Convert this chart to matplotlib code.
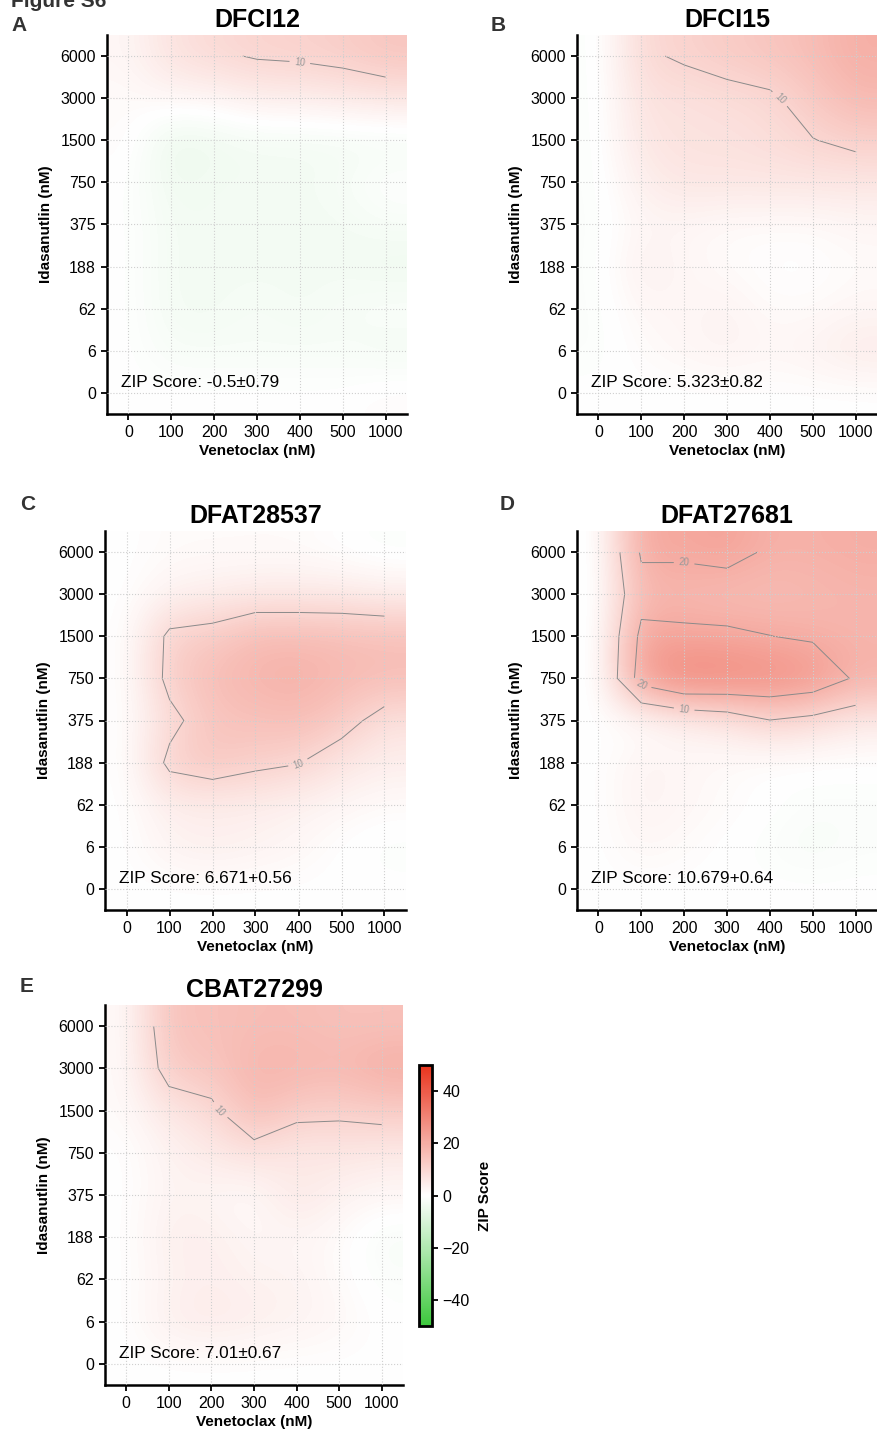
import numpy as np
import matplotlib
matplotlib.use("Agg")
import matplotlib.pyplot as plt
from matplotlib.colors import LinearSegmentedColormap

plt.rcParams["font.family"] = ["Liberation Sans", "DejaVu Sans"]

venetoclax = ["0", "100", "200", "300", "400", "500", "1000"]
idasanutlin = ["0", "6", "62", "188", "375", "750", "1500", "3000", "6000"]

# rows = idasanutlin (0 -> 6000), cols = venetoclax (0 -> 1000)
dfci12 = [
    [0, 0, 0, 0, 0, 0, 1],
    [0, -2, -2, -2, -2, -2, -3],
    [0, -3, -3, -2, -3, -2, -1],
    [0, -3, -3, -3, -3, -3, -4],
    [0, -3, -3, -3, -3, -3, -2],
    [0, -4, -3, -3, -3, -2, 0],
    [1, -5, -4, -3, -3, -3, -3],
    [1, 2, 2, 4, 4, 5, 6],
    [2, 7, 9, 10.5, 11, 12, 14],
]
dfci15 = [
    [0, 0, 0, 0, 0, 0, 0],
    [-1, 1, 2, 3, 2, 3, 5],
    [-1, 2, 2, 3, 1, 1, 2],
    [-1, 4, 2, 1, 0, 0, 1],
    [-1, 2, 2, 1, 1, 1, 2],
    [-1, 4, 6, 6, 6, 6, 6],
    [-1, 6, 7, 7, 8, 9.8, 11.5],
    [-1, 7, 7, 8, 9, 13, 17],
    [-1, 9, 10.8, 12.5, 14, 16, 19.5],
]
dfat28537 = [
    [0, 0, 0, 0, 0, 0, 0],
    [0, 3, 4, 3, 2, 0, -1],
    [0, 4, 4, 4, 3, 2, 1],
    [0, 11.6, 14, 11.5, 10.3, 6, 4],
    [0, 8, 14, 15, 16, 13, 7],
    [0, 12, 16, 18, 19, 17, 16],
    [0, 11.5, 12.7, 16.5, 16.5, 16, 15.5],
    [0, 3, 4, 5, 5, 5, 4],
    [0, 1, 1, 1, 1, 0, -1],
]
dfat27681 = [
    [0, 0, 0, 0, 0, 0, 0],
    [0, 2, 1, 0, -1, -2, -1],
    [0, 3, 2, 1, 0, -1, -1],
    [0, 3, 2, 1, 0, 0, 0],
    [0, 0, 3, 5.2, 9.8, 7.8, 4.9],
    [-1, 24, 30, 29, 28, 26, 19],
    [-1, 22, 21.4, 21.3, 20.1, 19, 18],
    [-1, 17, 17, 16, 16, 17, 18],
    [-1, 21, 21, 22.5, 19, 19, 19.8],
]
cbat27299 = [
    [0, 0, 0, 0, 0, 0, 0],
    [0, 4, 5, 4, 3, 2, 0],
    [0, 3, 4, 3, 3, 1, -1],
    [0, 4, 4, 2, 2, 1, -2],
    [0, 3, 2, 1, 6, 3, 2],
    [0, 3, 5, 7, 5, 6, 5],
    [1, 6, 8.4, 16.7, 12, 11.3, 12.5],
    [1, 13, 14, 18, 18, 17, 20],
    [1, 15, 15, 16, 16, 15, 15],
]

samples = ["DFCI12", "DFCI15", "DFAT28537", "DFAT27681", "CBAT27299"]
surfaces = [dfci12, dfci15, dfat28537, dfat27681, cbat27299]
zip_labels = ["ZIP Score: -0.5\u00b10.79", "ZIP Score: 5.323\u00b10.82",
              "ZIP Score: 6.671+0.56", "ZIP Score: 10.679+0.64",
              "ZIP Score: 7.01\u00b10.67"]
letters = ["A", "B", "C", "D", "E"]

W, H = 877, 1435
# axes boxes in pixels: left, right, top, bottom
boxes = [(107, 407, 35, 414), (577, 877, 35, 414), (105, 406, 531, 910),
         (577, 877, 531, 910), (105, 403, 1005, 1385)]
letter_pos = [(11, 31), (491, 31), (20, 510), (500, 510), (20, 992)]

cmap = LinearSegmentedColormap.from_list("zip", ["#3cc83c", "#ffffff", "#e8331c"])

fig = plt.figure(figsize=(W / 100, H / 100), dpi=100)
fig.text(11 / W, 1 - 7 / H, "Figure S6", fontsize=15, fontweight="bold",
         color="#333333", ha="left", va="baseline")

im = None
for i, (name, z) in enumerate(zip(samples, surfaces)):
    l, r, t, b = boxes[i]
    ax = fig.add_axes([l / W, 1 - b / H, (r - l) / W, (b - t) / H])
    z = np.array(z, dtype=float)
    im = ax.imshow(z, origin="lower", extent=(-0.5, 6.5, -0.5, 8.5), aspect="auto",
                   interpolation="bicubic", cmap=cmap, vmin=-50, vmax=50, zorder=0)
    cs = ax.contour(np.arange(7), np.arange(9), z, levels=[10, 20, 30],
                    colors="#8a8a8a", linewidths=0.7, zorder=1)
    ax.clabel(cs, fmt="%d", fontsize=7, colors="#999999", inline=True)
    ax.set_xlim(-0.5, 6.5)
    ax.set_ylim(-0.5, 8.5)
    ax.set_xticks(range(7))
    ax.set_xticklabels(venetoclax)
    ax.set_yticks(range(9))
    ax.set_yticklabels(idasanutlin)
    ax.grid(True, linestyle=":", color="#cfcfcf", linewidth=0.8)
    ax.set_axisbelow(False)
    for s in ["top", "right"]:
        ax.spines[s].set_visible(False)
    for s in ["left", "bottom"]:
        ax.spines[s].set_linewidth(1.8)
    ax.tick_params(labelsize=11.5, length=4, width=1.3, pad=4)
    ax.set_xlabel("Venetoclax (nM)", fontsize=11, fontweight="bold", labelpad=3)
    ax.set_ylabel("Idasanutlin (nM)", fontsize=11, fontweight="bold", labelpad=5)
    ax.set_title(name, fontsize=18, fontweight="bold", pad=6)
    ax.text(0.047, 0.083, zip_labels[i], transform=ax.transAxes, fontsize=12.4,
            ha="left", va="center")
    fig.text(letter_pos[i][0] / W, 1 - letter_pos[i][1] / H, letters[i], fontsize=15,
             fontweight="bold", color="#333333", ha="left", va="baseline")

cax = fig.add_axes([419 / W, 1 - 1326 / H, 13 / W, 261 / H])
cb = fig.colorbar(im, cax=cax, ticks=[-40, -20, 0, 20, 40])
cb.outline.set_linewidth(2)
cb.ax.tick_params(labelsize=11.5, length=4, width=1.3)
cb.set_label("ZIP Score", fontsize=11, fontweight="bold", labelpad=6)

fig.savefig("out.png", dpi=100)
